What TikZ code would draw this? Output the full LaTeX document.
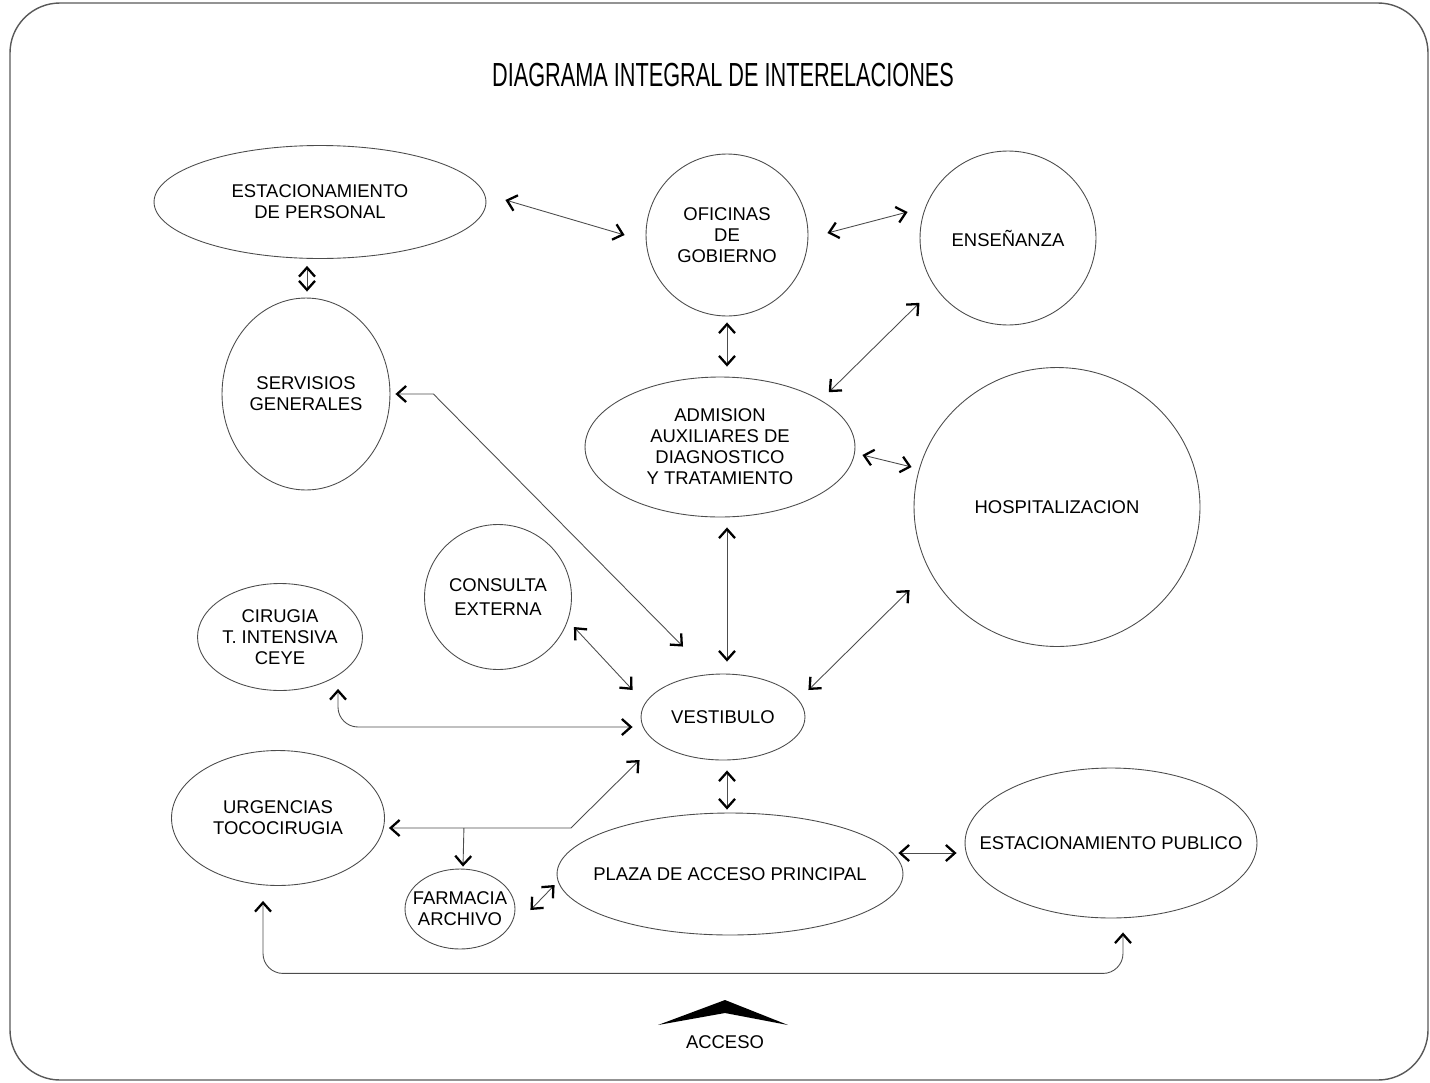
\documentclass[tikz,border=0pt]{standalone}
\usepackage{fontspec}
\setmainfont{Liberation Sans}
\newfontfamily\titlefont[FakeStretch=0.65]{Liberation Sans}
\usetikzlibrary{arrows.meta,calc,shapes.geometric}
\tikzset{%
	zone/.style     = {draw=black!70, ellipse, line width=0.5pt, inner sep=-3cm, align=center, font=\fontsize{10.5}{12}\selectfont}, % Area
	link/.style     = {draw=black!70, line width=0.5pt}, % Relation
	label/.style    = {font=\fontsize{10.5}{12}\selectfont}, % Text
}

\begin{document}
\begin{tikzpicture}[x=0.02cm,y=-0.02cm,>={Straight Barb[length=0.18cm,width=0.32cm,line width=1.3pt,color=black]}]
	\useasboundingbox (0,0) rectangle (1430,1082);
	\draw[black!65, line width=0.8pt, rounded corners=1cm] (10,3) rectangle (1428,1080);
	\node [font=\titlefont\fontsize{19}{22}\selectfont] (title) at (723,75) {DIAGRAMA INTEGRAL DE INTERELACIONES};

	\node [zone, minimum width=6.64cm, minimum height=2.26cm] (estper) at (320,202) {ESTACIONAMIENTO\\DE PERSONAL};
	\node [zone, minimum width=3.24cm, minimum height=3.24cm] (ofic) at (727,235) {OFICINAS\\DE\\GOBIERNO};
	\node [zone, minimum width=3.52cm, minimum height=3.48cm] (ensen) at (1008,238) {ENSEÑANZA};
	\node [zone, minimum width=3.36cm, minimum height=3.84cm] (serv) at (306,394) {SERVISIOS\\GENERALES};
	\node [zone, minimum width=5.4cm, minimum height=2.8cm] (admis) at (720,447) {ADMISION\\AUXILIARES DE\\DIAGNOSTICO\\ Y TRATAMIENTO};
	\node [zone, minimum width=5.72cm, minimum height=5.58cm] (hosp) at (1057,507) {HOSPITALIZACION};
	\node [zone, minimum width=2.94cm, minimum height=2.9cm] (consul) at (498,597) {CONSULTA\\[2pt]EXTERNA};
	\node [zone, minimum width=3.3cm, minimum height=2.14cm] (cirug) at (280,637) {CIRUGIA\\T. INTENSIVA\\CEYE};
	\node [zone, minimum width=3.28cm, minimum height=1.72cm] (vest) at (723,717) {VESTIBULO};
	\node [zone, minimum width=4.26cm, minimum height=2.7cm] (urg) at (278,818) {URGENCIAS\\TOCOCIRUGIA};
	\node [zone, minimum width=6.92cm, minimum height=2.44cm] (plaza) at (730,874) {PLAZA DE ACCESO PRINCIPAL};
	\node [zone, minimum width=5.84cm, minimum height=3cm] (estpub) at (1111,843) {ESTACIONAMIENTO PUBLICO};
	\node [zone, minimum width=2.2cm, minimum height=1.6cm] (farm) at (460,909) {FARMACIA\\ARCHIVO};
	\node [label] (acc) at (725,1042) {ACCESO};

	\draw[link,<->] ($(estper.east)+(19,-2)$) -- ($(ofic.west)+(-21,0)$);
	\draw[link,<->] ($(ofic.east)+(19,-2)$) -- ($(ensen.west)+(-12,-26)$);
	\draw[link,<->] ($(estper.south)+(-13,7)$) -- ($(serv.north)+(1,-6)$);
	\draw[link,<->] ($(ofic.south)+(0,6)$) -- ($(admis.north)+(7,-10)$);
	\draw[link,<->] ($(ensen.south west)+(-26,3)$) -- ($(admis.north east)+(13,-5)$);
	\draw[link,<->] ($(admis.east)+(7,8)$) -- ($(hosp.west)+(-2,-40)$);
	\draw[link,<->] ($(serv.east)+(5,0)$) -- ++(38,0) -- ($(vest.north)+(-40,-27)$);
	\draw[link,<->] ($(consul.east)+(2,30)$) -- ($(vest.west)+(-8,-27)$);
	\draw[link,<->,rounded corners=0.4cm] ($(cirug.south)+(58,-2)$) |- ($(vest.west)+(-8,10)$);
	\draw[link,<->] ($(admis.south)+(7,10)$) -- ($(vest.north)+(4,-12)$);
	\draw[link,<->] ($(hosp.west)+(-4,83)$) -- ($(vest.east)+(3,-27)$);
	\draw[link,<->] ($(vest.south)+(4,10)$) -- ($(plaza.north)+(-3,-3)$);
	\draw[link,<->] ($(plaza.east)+(-5,-21)$) -- ($(estpub.west)+(-8,10)$);
	\draw[link,<->] ($(farm.east)+(15,1)$) -- ($(plaza.west)+(-2,11)$);
	\draw[link,<->] ($(urg.east)+(4,10)$) -- ++(182,0) -- ($(vest.west)+(-1,43)$);
	\coordinate (split) at ($(urg.east)+(79,10)$);
	\draw[link,->] (split) -- ($(farm.north)+(3,-2)$);
	\draw[link,<->,rounded corners=0.4cm] ($(urg.south)+(-15,15)$) |- ($(estpub.south)+(12,55)$) -- ($(estpub.south)+(12,14)$);

	% access roof
	\fill ($(acc)+(-67,-17)$) -- ($(acc)+(0,-42)$) -- ($(acc)+(63,-17)$) -- ($(acc)+(0,-29)$) -- cycle;
\end{tikzpicture}
\end{document}
